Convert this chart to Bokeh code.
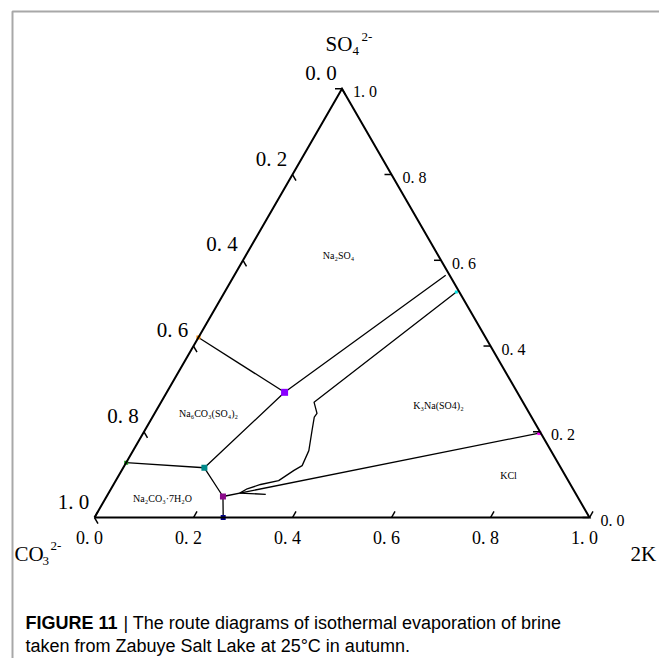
import math
from bokeh.plotting import figure
from bokeh.models import Range1d, ColumnDataSource, Label
from bokeh.embed import file_html
from bokeh.resources import INLINE
from bokeh.core.properties import value

# ---------------- data (ternary fractions: 2K, SO4; CO3 = 1 - 2K - SO4) ----------------
TICK_VALUES = [0.0, 0.2, 0.4, 0.6, 0.8, 1.0]
TICK_LABELS = ["0. 0", "0. 2", "0. 4", "0. 6", "0. 8", "1. 0"]

# invariant / boundary points
POINT_K = [0.000, 0.238, 0.000, 0.164, 0.235, 0.260, 0.800, 0.468]
POINT_S = [0.420, 0.292, 0.128, 0.116, 0.049, 0.000, 0.197, 0.526]

# univariant boundary lines
LINE1_K = [0.000, 0.238]
LINE1_S = [0.420, 0.292]
LINE2_K = [0.000, 0.164]
LINE2_S = [0.128, 0.116]
LINE3_K = [0.164, 0.238, 0.427]
LINE3_S = [0.116, 0.292, 0.565]
LINE4_K = [0.164, 0.235, 0.260]
LINE4_S = [0.116, 0.049, 0.000]
LINE5_K = [0.235, 0.800]
LINE5_S = [0.049, 0.197]

# evaporation route of the brine
ROUTE_K = [0.468, 0.309, 0.328, 0.327, 0.338, 0.355, 0.359, 0.348, 0.329, 0.297, 0.275, 0.265, 0.319]
ROUTE_S = [0.526, 0.269, 0.243, 0.234, 0.203, 0.156, 0.121, 0.110, 0.086, 0.077, 0.067, 0.057, 0.054]

REGION_NAMES = ["Na₂SO₄", "Na₆CO₃(SO₄)₂", "Na₂CO₃·7H₂O", "K₃Na(SO4)₂", "KCl"]

CAPTION_BOLD = "FIGURE 11"
CAPTION_1 = "| The route diagrams of isothermal evaporation of brine"
CAPTION_2 = "taken from Zabuye Salt Lake at 25°C in autumn."

# ---------------- layout ----------------
W, H = 659, 658
X0, Y0, SIDE = 94, 517, 495      # pixel position of CO3 corner, side length (px)
R3 = math.sqrt(3) / 2
SERIF = "Liberation Serif"
SANS = "Liberation Sans"

POINT_COLORS = ["#ff8c00", "#8a00ff", "#1f9e1f", "#00898a", "#8b0a8b", "#00008b", "#ff00ff", "#00e0e0"]
POINT_SIZES = [4, 7, 4, 6, 6, 5, 4, 3]
REGION_POS = [(338, 255), (208, 413), (162, 498), (438, 405), (508, 475)]


def tern(k, s):
    return [a + b / 2 for a, b in zip(k, s)], [b * R3 for b in s]


def at_px(x, y):
    return (x - X0) / SIDE, (Y0 - y) / SIDE


p = figure(width=W, height=H, output_backend="svg", toolbar_location=None,
           x_range=Range1d(-X0 / SIDE, (W - X0) / SIDE),
           y_range=Range1d(-(H - Y0) / SIDE, Y0 / SIDE),
           min_border=0, x_axis_type=None, y_axis_type=None)
p.outline_line_color = None
p.background_fill_color = "white"
p.border_fill_color = "white"

# gray frame
fx, fy = at_px(12, 11)
fx2, fy2 = at_px(W + 5, H + 5)
p.line([fx, fx, fx2], [fy2, fy, fy], line_color="#a8a8a8", line_width=2)

# boundary lines and route
for lk, ls in [(LINE1_K, LINE1_S), (LINE2_K, LINE2_S), (LINE3_K, LINE3_S),
               (LINE4_K, LINE4_S), (LINE5_K, LINE5_S), (ROUTE_K, ROUTE_S)]:
    xs, ys = tern(lk, ls)
    p.line(xs, ys, line_color="black", line_width=1.3)

# points
px_, py_ = tern(POINT_K, POINT_S)
p.scatter(x=px_, y=py_, marker="square", size=POINT_SIZES, fill_color=POINT_COLORS,
          line_color=None)

# ticks
L = 7 / SIDE
n = len(TICK_VALUES)
bx, by = tern(TICK_VALUES, [0.0] * n)                              # 2K axis (bottom)
lx, ly = tern([0.0] * n, [1 - v for v in TICK_VALUES])             # CO3 axis (left)
rx, ry = tern([1 - v for v in TICK_VALUES], TICK_VALUES)           # SO4 axis (right)
p.segment(x0=bx, y0=by, x1=[x + 0.5 * L for x in bx], y1=[y + R3 * L for y in by],
          line_color="black", line_width=1.5)
p.segment(x0=lx, y0=ly, x1=[x + 0.5 * L for x in lx], y1=[y - R3 * L for y in ly],
          line_color="black", line_width=1.5)
p.segment(x0=rx, y0=ry, x1=[x - L for x in rx], y1=ry,
          line_color="black", line_width=1.5)

# triangle edges
ex, ey = tern([0, 1, 0, 0], [0, 0, 1, 0])
p.line(ex, ey, line_color="black", line_width=2, line_join="miter")


def put_labels(xs, ys, dx, dy, size):
    src = ColumnDataSource(dict(x=[x + dx / SIDE for x in xs], y=[y - dy / SIDE for y in ys],
                                t=TICK_LABELS))
    p.text(x="x", y="y", text="t", source=src, text_font=value(SERIF), text_font_size=size,
           text_align="center", text_baseline="middle", text_color="black")


put_labels(bx, by, -5, 20, "18px")
put_labels(lx, ly, -21, -16, "21px")
put_labels(rx, ry, 23, 3, "16px")

# region labels
rpx = [at_px(x, y) for x, y in REGION_POS]
p.text(x=[a for a, b in rpx], y=[b for a, b in rpx], text=REGION_NAMES,
       text_font=value(SERIF), text_font_size="10px", text_align="center",
       text_baseline="middle", text_color="black")


def lab(x, y, text, size, font=SERIF, style="normal", align="left"):
    dx, dy = at_px(x, y)
    p.add_layout(Label(x=dx, y=dy, text=text, text_font=font, text_font_size=size,
                       text_font_style=style, text_align=align, text_baseline="middle",
                       text_color="black"))


# apex titles
lab(325, 43, "SO", "21px")
lab(352, 50, "4", "13px")
lab(361, 36, "2-", "13px")
lab(14, 553, "CO", "21px")
lab(42, 560, "3", "13px")
lab(50, 545, "2-", "13px")
lab(630, 553, "2K", "21px")

# caption
lab(25, 622, CAPTION_BOLD, "18px", font=SANS, style="bold")
lab(123, 622, CAPTION_1, "18px", font=SANS)
lab(25, 645, CAPTION_2, "18px", font=SANS)

open("out.html", "w").write(file_html(p, INLINE))
